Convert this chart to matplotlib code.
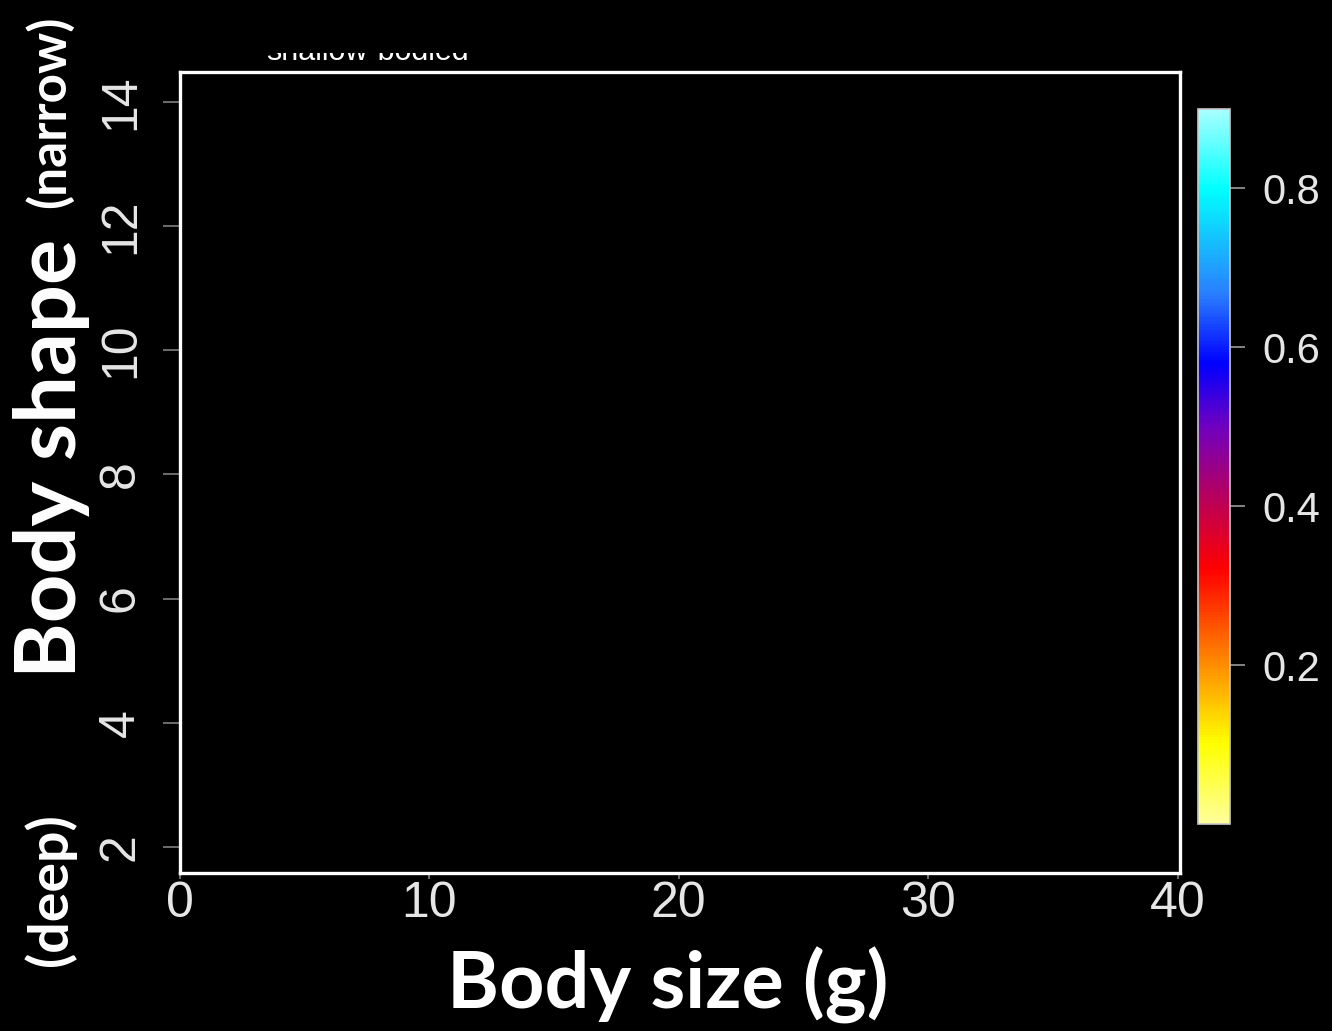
import matplotlib

matplotlib.use("Agg")
import matplotlib.pyplot as plt
from matplotlib.colors import LinearSegmentedColormap, Normalize
from matplotlib.cm import ScalarMappable
from matplotlib.patches import Rectangle

plt.rc("font", family=["Liberation Sans", "DejaVu Sans"])

# axis ranges and ticks
x_lim = (0, 40.1)
y_lim = (1.58, 14.48)
x_ticks = [0, 10, 20, 30, 40]
y_ticks = [2, 4, 6, 8, 10, 12, 14]

# colour scale (probability), bottom -> top
cbar_min, cbar_max = 0.0, 0.9
cbar_ticks = [0.2, 0.4, 0.6, 0.8]
cbar_stops = [0.0, 0.10, 0.20, 0.32, 0.40, 0.50, 0.58, 0.67, 0.80, 0.90]
cbar_colors = ["#ffff9a", "#ffff00", "#ff8c00", "#ff0000", "#c00050",
               "#7000c0", "#0000ff", "#2a80ff", "#00ffff", "#a8ffff"]

W, H = 1332, 1031


def px(x0, y0, x1, y1):
    # pixel box (top-left origin) -> figure fraction rect
    return [x0 / W, 1 - y1 / H, (x1 - x0) / W, (y1 - y0) / H]


fig = plt.figure(figsize=(W / 100, H / 100), dpi=100, facecolor="black")

ax = fig.add_axes(px(180, 72, 1180, 873))
ax.set_facecolor("black")
ax.set_xlim(*x_lim)
ax.set_ylim(*y_lim)
ax.set_xticks(x_ticks)
ax.set_yticks(y_ticks)
for sp in ax.spines.values():
    sp.set_color("white")
    sp.set_linewidth(2.4)
ax.tick_params(axis="x", colors="#808080", labelcolor="#e6e6e6", labelsize=36,
               length=4, width=1.2, pad=2)
ax.tick_params(axis="y", colors="#808080", labelcolor="#e6e6e6", labelsize=36,
               length=12, width=1.2, pad=14)
for lab in ax.get_yticklabels():
    lab.set_rotation(90)
    lab.set_va("center")

# colour bar
cax = fig.add_axes(px(1198, 109, 1230, 824))
cmap = LinearSegmentedColormap.from_list(
    "prob", [(s / cbar_max, c) for s, c in zip(cbar_stops, cbar_colors)])
cb = fig.colorbar(ScalarMappable(norm=Normalize(cbar_min, cbar_max), cmap=cmap),
                  cax=cax, ticks=cbar_ticks)
cb.outline.set_edgecolor("#c8c8c8")
cb.outline.set_linewidth(1.2)
cb.ax.set_yticklabels(["0.2", "0.4", "0.6", "0.8"])
cb.ax.tick_params(colors="#9a9a9a", labelcolor="#e6e6e6", labelsize=30,
                  length=11, width=1.2, pad=12)

# axis titles
title_kw = dict(color="white", fontweight="bold", family="Lato",
                ha="center", va="center")
fig.text(668 / W, 1 - 985 / H, "Body size (g)", fontsize=57, **title_kw)
fig.text(52 / W, 1 - 458 / H, "Body shape", fontsize=61, rotation=90, **title_kw)
fig.text(50 / W, 1 - 112 / H, "(narrow)", fontsize=37, rotation=90, **title_kw)
fig.text(50 / W, 1 - 890 / H, "(deep)", fontsize=40, rotation=90, **title_kw)

# label cut off at the top of the panel (only its lower edge shows)
fig.text(367 / W, 1 - 60 / H, "shallow-bodied", color="white", fontsize=22,
         ha="center", va="baseline")
fig.patches.append(Rectangle((230 / W, 1 - 53 / H), 290 / W, 53 / H,
                             transform=fig.transFigure, facecolor="black",
                             edgecolor="none", zorder=10))

plt.savefig("out.png", dpi=100, facecolor="black")
